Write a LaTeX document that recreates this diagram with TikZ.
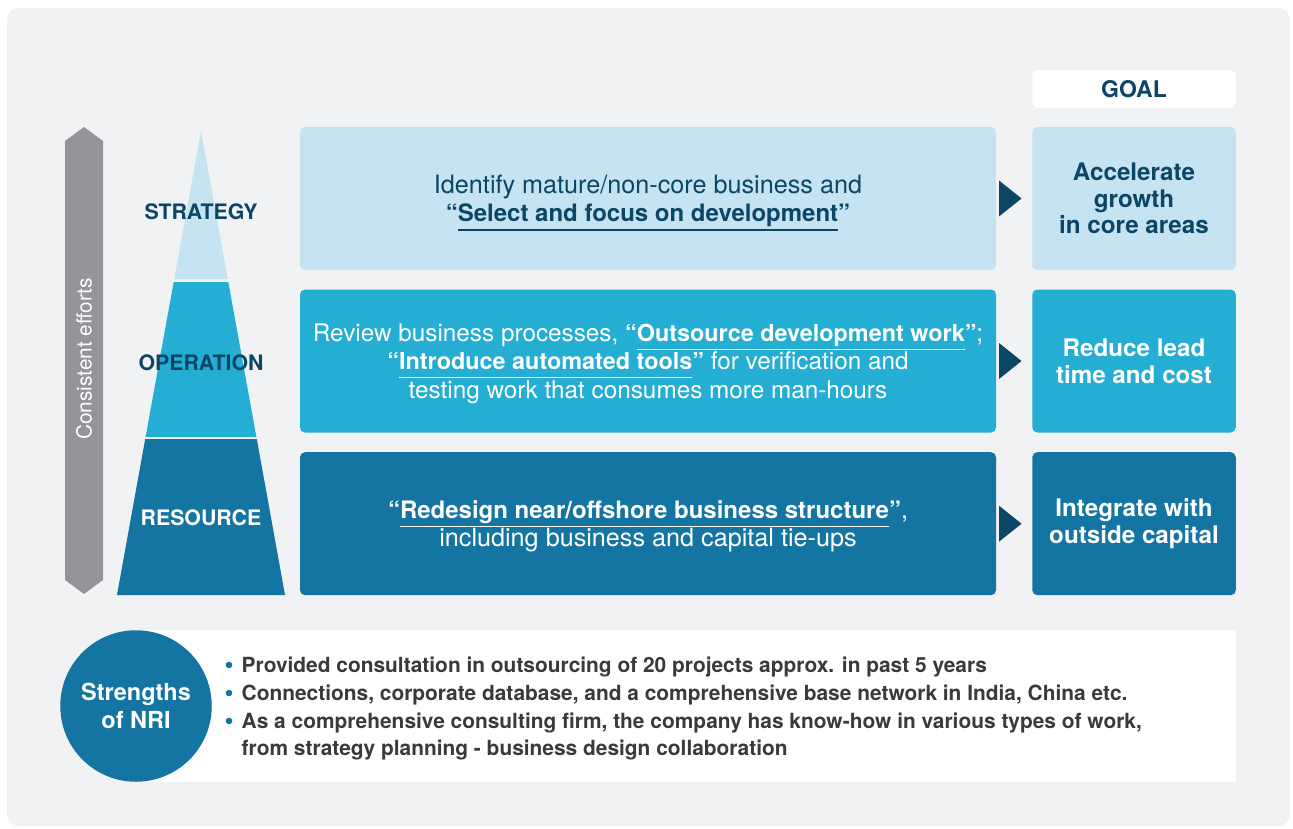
\documentclass[tikz,border=0pt]{standalone}
\usepackage{fontspec}
\setmainfont{TeX Gyre Heros}
\usetikzlibrary{positioning}

\definecolor{bgcol}{HTML}{F1F2F4}
\definecolor{lightblue}{HTML}{C5E3F0}
\definecolor{midblue}{HTML}{24AED4}
\definecolor{darkblue}{HTML}{1575A2}
\definecolor{navy}{HTML}{0B4664}
\definecolor{effortgray}{HTML}{939598}
\definecolor{pointtext}{HTML}{3A3A3A}

% bold words in quotes, with a rule under the words
\newcommand{\boldsz}{24}
\newcommand{\ulbold}[1]{\setbox0=\hbox{\fontsize{\boldsz}{28.5}\selectfont\bfseries #1}%
  \rlap{\smash{\rule[-8.6pt]{\wd0}{1.3pt}}}\box0}
\newcommand{\qul}[1]{{\fontsize{\boldsz}{28.5}\selectfont\bfseries “}\ulbold{#1}%
  {\fontsize{\boldsz}{28.5}\selectfont\bfseries ”}}

\begin{document}
\begin{tikzpicture}[x=1pt,y=-1pt,
    actbox/.style={rounded corners=5pt,minimum width=696pt,minimum height=143pt,
      align=center,text depth=0pt,font=\fontsize{25.2}{28.5}\selectfont},
    goalbox/.style={rounded corners=5pt,minimum width=203.5pt,minimum height=143pt,
      align=center,font=\fontsize{24.2}{26.7}\selectfont\bfseries},
    tierlabel/.style={font=\fontsize{21.3}{24}\selectfont\bfseries},
    pointline/.style={anchor=base west,inner sep=0pt,text=pointtext,
      font=\fontsize{20.9}{24}\selectfont\bfseries}]
  \useasboundingbox (0,0) rectangle (1293,829);
  \fill[white] (0,0) rectangle (1293,829);
  \fill[bgcol,rounded corners=12pt] (7,8) rectangle (1290,826);

  % consistent efforts arrow
  \fill[effortgray] (65,141) -- (84,127) -- (103,141) -- (103,580) -- (84,594) -- (65,580) -- cycle;
  \node[rotate=90,text=white,font=\fontsize{20.8}{24}\selectfont] (efforts) at (84,359) {Consistent efforts};

  % pyramid
  \fill[lightblue] (201,131) -- (227.8,279) -- (174.2,279) -- cycle;
  \fill[midblue] (173.7,282) -- (228.3,282) -- (256.4,437) -- (145.6,437) -- cycle;
  \fill[darkblue] (145.2,439) -- (256.8,439) -- (285,595) -- (117,595) -- cycle;
  \node[tierlabel,text=navy] (strategy) at (201,212) {STRATEGY};
  \node[tierlabel,text=navy] (operation) at (201,363) {OPERATION};
  \node[tierlabel,text=white] (resource) at (201,518) {RESOURCE};

  % actions
  \node[actbox,fill=lightblue,text=navy] (act1) at (648,198.5)
    {Identify mature/non-core business and\\
     \qul{Select and focus on development}};
  \node[actbox,fill=midblue,text=white,font=\fontsize{24.3}{28.4}\selectfont] (act2) at (648,361)
    {\def\boldsz{23.4}Review business processes, \qul{Outsource development work};\\
     \def\boldsz{23.4}\qul{Introduce automated tools} for verification and\\
     testing work that consumes more man-hours};
  \node[actbox,fill=darkblue,text=white] (act3) at (648,523.7)
    {\qul{Redesign near/offshore business structure},\\
     including business and capital tie-ups};

  \foreach \y in {198.5,361,523.7}
    \fill[navy] (999,\y-18) -- (1021.5,\y) -- (999,\y+18) -- cycle;

  % goals
  \node[goalbox,minimum height=37.7pt,fill=white,text=navy,
    font=\fontsize{23}{26}\selectfont\bfseries] (goal) at (1134,89) {GOAL};
  \node[goalbox,fill=lightblue,text=navy] (goal1) at (1134,198.5) {Accelerate\\growth\\in core areas};
  \node[goalbox,fill=midblue,text=white] (goal2) at (1134,361) {Reduce lead\\time and cost};
  \node[goalbox,fill=darkblue,text=white] (goal3) at (1134,523.7) {Integrate with\\outside capital};

  % strengths
  \fill[white] (136,630) rectangle (1236,782);
  \node[circle,fill=darkblue,minimum size=151.5pt,inner sep=0pt,align=center,text=white,
    font=\fontsize{23.5}{28}\selectfont\bfseries] (nri) at (136,706) {Strengths\\of NRI};
  \foreach \y in {665,693,721}
    \fill[darkblue] (229,\y) circle (3.3pt);
  \node[pointline] (pt1) at (241.5,672) {Provided consultation in outsourcing of 20 projects approx. in past 5 years};
  \node[pointline] (pt2) at (241.5,700.5) {Connections, corporate database, and a comprehensive base network in India, China etc.};
  \node[pointline] (pt3) at (241.5,728.5) {As a comprehensive consulting firm, the company has know-how in various types of work,};
  \node[pointline] (pt3b) at (241.5,755.5) {from strategy planning - business design collaboration};
\end{tikzpicture}
\end{document}
